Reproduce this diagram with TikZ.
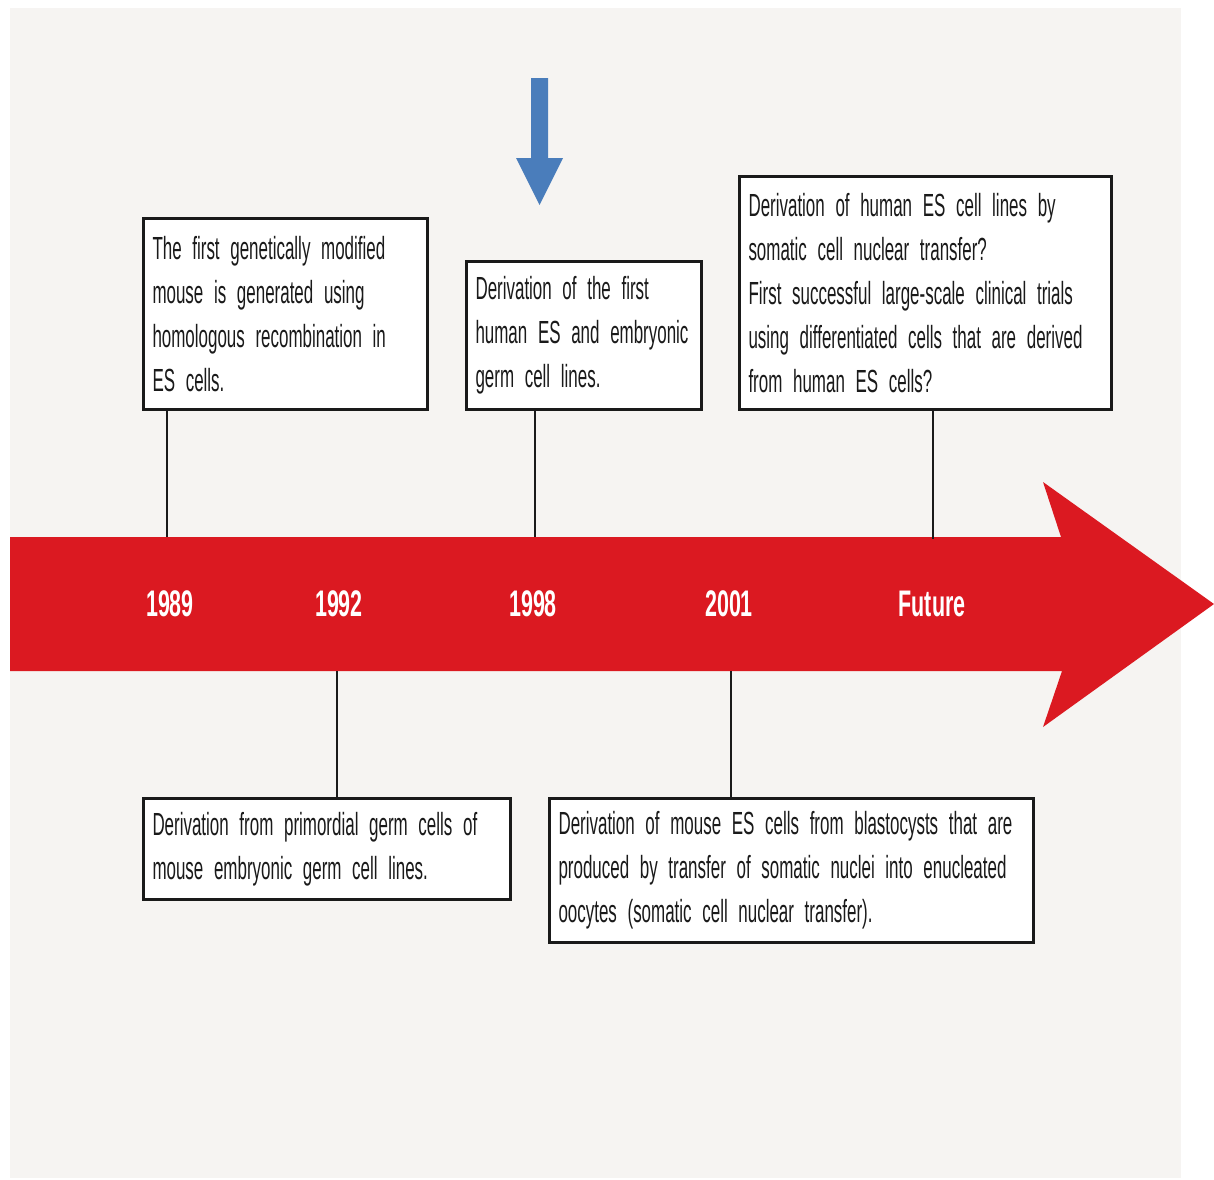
\documentclass[tikz,border=0pt]{standalone}
\usepackage{fontspec}
\setmainfont{Liberation Sans}
\newfontfamily\boxfont[FakeStretch=0.53]{Liberation Sans}
\newfontfamily\yearfont[FakeStretch=0.58]{Liberation Sans Bold}
\newcommand\evfont{\boxfont\fontsize{32}{44}\selectfont\hyphenpenalty=10000\spaceskip=3.5pt plus 1pt minus 1pt\relax}
\newcommand\evline[1]{\mbox{#1}}
\definecolor{bgpaper}{RGB}{246,244,242}
\definecolor{tlred}{RGB}{219,25,33}
\definecolor{markblue}{RGB}{74,125,187}
\definecolor{ink}{RGB}{26,26,26}
\begin{document}
\begin{tikzpicture}[x=1pt,y=-1pt,
  evbox/.style={draw=ink, line width=3pt, fill=white, align=left,
    font=\evfont, text=ink,
    inner xsep=9pt, inner ysep=0pt},
  yearlbl/.style={text=white, font=\yearfont\fontsize{37}{40}\selectfont, inner sep=0pt},
  stem/.style={line width=2pt, draw=ink}]
\useasboundingbox (0,0) rectangle (1214,1179);
\fill[white] (0,0) rectangle (1214,1179);
\fill[bgpaper] (10,8) rectangle (1181,1178);

% main red timeline arrow
\fill[tlred] (10,537) -- (1061,537) -- (1043,482) -- (1214,604) -- (1043,727) -- (1062,671) -- (10,671) -- cycle;

% blue marker arrow
\fill[markblue] (531,78) -- (548,78) -- (548,158) -- (563,158) -- (539.5,205) -- (516,158) -- (531,158) -- cycle;

% year labels
\node[yearlbl] (y1989) at (170,604) {1989};
\node[yearlbl] (y1992) at (339,604) {1992};
\node[yearlbl] (y1998) at (533,604) {1998};
\node[yearlbl] (y2001) at (729,604) {2001};
\node[yearlbl] (yfut)  at (932,604) {Future};

% attachment points on the arrow edges
\coordinate (t1) at (167,537);
\coordinate (t2) at (535,537);
\coordinate (t3) at (933,539);
\coordinate (t4) at (337,671);
\coordinate (t5) at (731,671);

% boxes
\node[evbox, minimum width=284pt, minimum height=191pt, text width=266pt] (b1) at (285.5,314)
  {\evline{The first genetically modified}\\\evline{mouse is generated using}\\\evline{homologous recombination in}\\\evline{ES cells.}};
\node[evbox, minimum width=235pt, minimum height=148pt, text width=217pt] (b2) at (584,335.5)
  {\evline{Derivation of the first}\\\evline{human ES and embryonic}\\\evline{germ cell lines.}};
\node[evbox, minimum width=372pt, minimum height=233pt, text width=354pt] (b3) at (925.5,293)
  {\evline{Derivation of human ES cell lines by}\\\evline{somatic cell nuclear transfer?}\\\evline{First successful large-scale clinical trials}\\\evline{using differentiated cells that are derived}\\\evline{from human ES cells?}};
\node[evbox, minimum width=367pt, minimum height=101pt, text width=349pt] (b4) at (327,849)
  {\evline{Derivation from primordial germ cells of}\\\evline{mouse embryonic germ cell lines.}};
\node[evbox, minimum width=484pt, minimum height=144pt, text width=466pt] (b5) at (791.5,870.5)
  {\evline{Derivation of mouse ES cells from blastocysts that are}\\\evline{produced by transfer of somatic nuclei into enucleated}\\\evline{oocytes (somatic cell nuclear transfer).}};

% stems
\draw[stem] (b1.south -| t1) -- (t1);
\draw[stem] (b2.south -| t2) -- (t2);
\draw[stem] (b3.south -| t3) -- (t3);
\draw[stem] (t4) -- (b4.north -| t4);
\draw[stem] (t5) -- (b5.north -| t5);
\end{tikzpicture}
\end{document}
